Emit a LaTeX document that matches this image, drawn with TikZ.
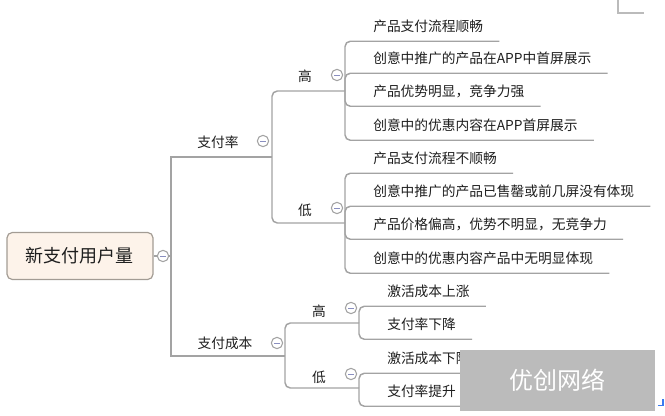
\documentclass[tikz,border=0pt]{standalone}
\usepackage{fontspec}
\setmainfont{Noto Sans CJK SC}
\usetikzlibrary{calc,positioning}
\definecolor{linegray}{HTML}{A3A3A3}
\definecolor{rootfill}{HTML}{FDF3EA}
\definecolor{rootdraw}{HTML}{A39C94}
\definecolor{foldminus}{HTML}{8A8FC0}
\definecolor{markgray}{HTML}{BBBBBB}
\definecolor{markblue}{HTML}{3B7BF0}
\definecolor{ink}{HTML}{1E1E1E}
\tikzset{
    root/.style={draw=rootdraw, fill=rootfill, line width=0.9pt, rounded corners=4pt,
                 minimum width=109.5pt, minimum height=35.25pt, text=ink,
                 font=\fontsize{13.5}{16}\selectfont},
    topic/.style={inner sep=0pt, text=ink, font=\fontsize{10.3}{12}\selectfont},
    leaf/.style={anchor=base west, inner xsep=12pt, inner ysep=0pt, text depth=6.75pt,
                 text=ink, font=\fontsize{10.3}{12}\selectfont},
    fold/.style={circle, draw=linegray, fill=white, line width=0.8pt, minimum size=8.5pt,
                 inner sep=0pt,
                 path picture={\draw[foldminus, line width=0.6pt]
                     ([xshift=-2pt]path picture bounding box.center) --
                     ([xshift=2pt]path picture bounding box.center);}},
    link/.style={draw=linegray, line width=1.1pt},
    branch/.style={link, rounded corners=4pt},
    watermark/.style={fill=markgray, inner sep=0pt, minimum width=146.25pt, minimum height=45.75pt,
                 text=white, font=\fontsize{18}{20}\selectfont}
}

\begin{document}
\begin{tikzpicture}[x=0.75pt, y=-0.75pt]
    \useasboundingbox (0,0) rectangle (665,416);

    % Nodes
    \node[root] (root) at (80,256) {新支付用户量};
    \node[topic] (rate) at (218,142) {支付率};
    \node[topic] (rateHi) at (305,76) {高};
    \node[topic] (rateLo) at (305,210) {低};
    \node[topic] (cost) at (225,343) {支付成本};
    \node[topic] (costHi) at (319,311) {高};
    \node[topic] (costLo) at (319,377) {低};

    \node[leaf] (hi1) at (357,32) {产品支付流程顺畅};
    \node[leaf] (hi2) at (357,64) {创意中推广的产品在APP中首屏展示};
    \node[leaf] (hi3) at (357,97) {产品优势明显，竞争力强};
    \node[leaf] (hi4) at (357,131) {创意中的优惠内容在APP首屏展示};
    \node[leaf] (lo1) at (357,164) {产品支付流程不顺畅};
    \node[leaf] (lo2) at (357,197) {创意中推广的产品已售罄或前几屏没有体现};
    \node[leaf] (lo3) at (357,230) {产品价格偏高，优势不明显，无竞争力};
    \node[leaf] (lo4) at (357,264) {创意中的优惠内容产品中无明显体现};
    \node[leaf] (up1) at (371,297) {激活成本上涨};
    \node[leaf] (up2) at (371,330) {支付率下降};
    \node[leaf] (dn1) at (371,364) {激活成本下降};
    \node[leaf] (dn2) at (371,397) {支付率提升};

    % junctions
    \coordinate (jRoot) at (171,256);
    \coordinate (jRate) at (272,157);
    \coordinate (jRateHi) at (345,91);
    \coordinate (jRateLo) at (345,223);
    \coordinate (jCost) at (285,356);
    \coordinate (jCostHi) at (359,323);
    \coordinate (jCostLo) at (359,388);

    % edges
    \draw[link] (root.east) -- (jRoot);
    \draw[link] (jRoot) |- (jRate);
    \draw[link] (jRoot) |- (jCost);
    \draw[branch] (jRate) |- (jRateHi);
    \draw[branch] (jRate) |- (jRateLo);
    \draw[branch] (jCost) |- (jCostHi);
    \draw[branch] (jCost) |- (jCostLo);
    \foreach \j/\n in {jRateHi/hi1, jRateHi/hi2, jRateHi/hi3, jRateHi/hi4,
                       jRateLo/lo1, jRateLo/lo2, jRateLo/lo3, jRateLo/lo4,
                       jCostHi/up1, jCostHi/up2, jCostLo/dn1, jCostLo/dn2}
        \draw[branch] (\j) |- (\n.south west) -- (\n.south east);

    % fold buttons
    \node[fold] (f0) at (163,256) {};
    \node[fold] (f1) at (263,141) {};
    \node[fold] (f2) at (337,75) {};
    \node[fold] (f3) at (337,208) {};
    \node[fold] (f4) at (277,343) {};
    \node[fold] (f5) at (351,308) {};
    \node[fold] (f6) at (351,374) {};

    % page marks and watermark
    \draw[markgray, line width=0.8pt] (618,0) -- (618,13) -- (644,13);
    \node[watermark] (wm) at (557.5,380.5) {优创网络};
    \draw[markblue, line width=1pt] (658,405.5) -- (663,405.5) -- (663,399);
\end{tikzpicture}
\end{document}
